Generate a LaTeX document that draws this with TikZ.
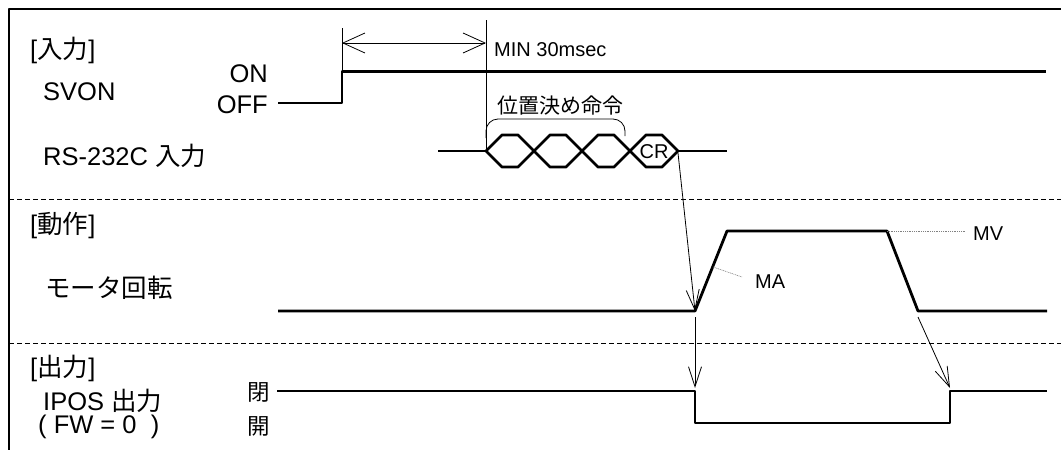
\documentclass[tikz,border=0pt]{standalone}
\usepackage{fontspec}
\setmainfont{Liberation Sans}
\newfontfamily\jp{Noto Sans CJK JP}
\usetikzlibrary{arrows.meta}

\begin{document}
\begin{tikzpicture}[x=1pt, y=-1pt, line join=round, >={Straight Barb[length=20pt,width=13pt]},
		sig/.style={line width=2.8pt},
		thinline/.style={line width=0.8pt},
		sep/.style={line width=0.9pt, dash pattern=on 5pt off 3pt},
		lead/.style={gray, line width=0.6pt, dash pattern=on 1pt off 0.8pt},
		big/.style={font=\fontsize{25.5}{30}\selectfont, inner sep=0pt},
		small/.style={font=\fontsize{20}{24}\selectfont, inner sep=0pt}]
		\useasboundingbox (0,0) rectangle (1061,450);
		% 枠と区切り線
		\draw[line width=2.5pt] (9,450) -- (9,9) -- (1061,9);
		\draw[sep] (9,199) -- (1061,199);
		\draw[sep] (9,343) -- (1061,343);
		% 見出しと信号名
		\node[big, anchor=base west] (inhdr) at (30,58) {[{\jp 入力}]};
		\node[big, anchor=base west] (svon) at (43,100) {SVON};
		\node[big, anchor=base east] (on) at (268,82) {ON};
		\node[big, anchor=base east] (off) at (268,113) {OFF};
		\node[big, anchor=base west] (rs) at (43,165) {RS-232C {\jp 入力}};
		\node[big, anchor=base west] (ophdr) at (30,233) {[{\jp 動作}]};
		\node[big, anchor=base west] (motor) at (45,297) {\jp モータ回転};
		\node[big, anchor=base west] (outhdr) at (30,376) {[{\jp 出力}]};
		\node[big, anchor=base west] (ipos) at (43,410) {IPOS {\jp 出力}};
		\node[big, anchor=base west] (fw) at (38,433) {( FW = 0\ \ )};
		\node[big, font=\jp\fontsize{22.5}{26}\selectfont] (cls) at (259,392) {閉};
		\node[big, font=\jp\fontsize{22.5}{26}\selectfont] (opn) at (259,426) {開};
		% SVON
		\draw[sig] (278,103) -- (342,103) -- (342,71.5) -- (1046,71.5);
		% 最小時間
		\draw[thinline] (342,28) -- (342,71.5);
		\draw[thinline] (486,20) -- (486,151);
		\draw[thinline, <->, >={Straight Barb[length=22pt,width=20pt]}] (342,43) -- (486,43);
		\node[small, anchor=base west] (min) at (494,56) {MIN 30msec};
		% RS-232C 入力
		\draw[sig] (438,151) -- (486,151);
		\foreach \x in {486,534,582,630}
		\draw[sig] (\x,151) -- ++(16,-16) -- ++(16,0) -- ++(16,16) -- ++(-16,16) -- ++(-16,0) -- cycle;
		\draw[sig] (678,151) -- (727,151);
		\node[small] (cr) at (654,152) {CR};
		\draw[thinline, rounded corners=12pt] (486,138) |- (625,119) -- (625,136);
		\node[inner sep=0pt, font=\jp\fontsize{21}{24}\selectfont] (cmd) at (560,106) {位置決め命令};
		% モータ回転
		\draw[sig] (278,311) -- (695,311) -- (727,231) -- (887,231) -- (918,311) -- (1047,311);
		\node[small, anchor=base west] (ma) at (755,288) {MA};
		\node[small, anchor=base west] (mv) at (973,240) {MV};
		\coordinate (accA) at (713,267);
		\coordinate (accB) at (742,277);
		\coordinate (velA) at (887,231);
		\coordinate (velB) at (965,231);
		\draw[lead] (accA) -- (accB);
		\draw[lead] (velA) -- (velB);
		% IPOS 出力
		\draw[sig] (277,391) -- (695,391) -- (695,423) -- (950,423) -- (950,391) -- (1047,391);
		% タイミング矢印
		\coordinate (CRend) at (678,153);
		\coordinate (Mstart) at (695,311);
		\coordinate (Mstart2) at (695,317);
		\coordinate (Iclose) at (695,388);
		\coordinate (Mend) at (918,317);
		\coordinate (Iopen) at (950,388);
		\foreach \a/\b in {CRend/Mstart, Mstart2/Iclose, Mend/Iopen}
		\draw[thinline, ->] (\a) -- (\b);
	\end{tikzpicture}
\end{document}
